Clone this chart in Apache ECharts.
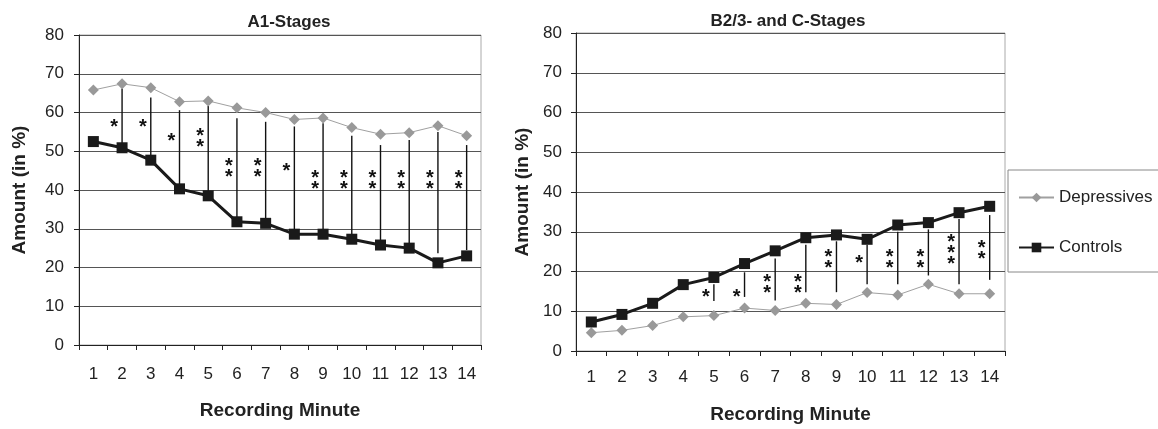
<!DOCTYPE html>
<html>
<head>
<meta charset="utf-8">
<script src="https://cdn.jsdelivr.net/npm/echarts@6/dist/echarts.min.js"></script>
<style>
  html, body { margin: 0; padding: 0; background: #fff; }
  #main { width: 1158px; height: 429px; }
</style>
</head>
<body>
<div id="main"></div>
<script>
// categories (recording minute)
var minutes = ['1', '2', '3', '4', '5', '6', '7', '8', '9', '10', '11', '12', '13', '14'];

// A1-Stages
var depA1 = [65.8, 67.4, 66.4, 62.8, 63.0, 61.2, 60.0, 58.2, 58.6, 56.1, 54.4, 54.8, 56.6, 54.0];
var ctrlA1 = [52.5, 50.9, 47.7, 40.3, 38.5, 31.8, 31.4, 28.6, 28.6, 27.3, 25.8, 25.0, 21.2, 23.0];
// significance bars (minute index, top, bottom, number of stars, star height)
var sigIdxA1 = [1, 2, 3, 4, 5, 6, 7, 8, 9, 10, 11, 12, 13];
var sigTopA1 = [66.2, 63.9, 60.6, 61.7, 58.5, 57.6, 56.4, 57.2, 54.0, 51.6, 52.9, 55.0, 51.6];
var sigBotA1 = [51.0, 47.7, 40.3, 38.5, 31.8, 31.4, 28.6, 28.6, 27.3, 25.8, 25.0, 23.7, 24.5];
var starsA1 = [1, 1, 1, 2, 2, 2, 1, 2, 2, 2, 2, 2, 2];
var starYA1 = [57.3, 57.3, 53.7, 53.7, 46, 46, 46, 42.8, 42.8, 42.8, 42.8, 42.8, 42.8];

// B2/3- and C-Stages
var depBC = [4.6, 5.2, 6.4, 8.6, 8.9, 10.8, 10.2, 12.0, 11.7, 14.7, 14.1, 16.8, 14.4, 14.4];
var ctrlBC = [7.3, 9.2, 12.0, 16.7, 18.5, 22.0, 25.2, 28.5, 29.2, 28.1, 31.7, 32.3, 34.8, 36.4];
var sigIdxBC = [4, 5, 6, 7, 8, 9, 10, 11, 12, 13];
var sigTopBC = [16.8, 19.8, 23.3, 26.7, 27.6, 26.7, 30.0, 30.6, 33.2, 34.2];
var sigBotBC = [12.6, 13.6, 12.7, 14.8, 14.8, 16.8, 16.8, 19.0, 16.8, 17.9];
var starsBC = [1, 1, 2, 2, 2, 1, 2, 2, 3, 2];
var starYBC = [14.6, 14.6, 17.1, 17.1, 23.4, 23.3, 23.5, 23.5, 25.7, 25.6];

var font = "'Liberation Sans', Arial, sans-serif";

function sigData(idx, top, bot, stars, starY) {
  return idx.map(function (v, i) { return [v, top[i], bot[i], stars[i], starY[i]]; });
}

// vertical significance bar with stacked stars to its left
function renderSig(params, api) {
  var x = api.value(0);
  var p1 = api.coord([x, api.value(1)]);
  var p2 = api.coord([x, api.value(2)]);
  var ps = api.coord([x, api.value(4)]);
  var n = api.value(3);
  var txt = [];
  for (var k = 0; k < n; k++) txt.push('*');
  return {
    type: 'group',
    children: [
      {
        type: 'line',
        shape: { x1: p1[0], y1: p1[1], x2: p2[0], y2: p2[1] },
        style: { stroke: '#111', lineWidth: 1.4 }
      },
      {
        type: 'text',
        x: p1[0] - 8,
        y: ps[1] + 5,
        style: {
          text: txt.join('\n'),
          fontFamily: font,
          fontSize: 20,
          fontWeight: 'bold',
          lineHeight: 11,
          fill: '#111',
          align: 'center',
          verticalAlign: 'middle'
        }
      }
    ]
  };
}

function xAxisCfg(gi, margin, nameGap) {
  return {
    type: 'category',
    gridIndex: gi,
    data: minutes,
    boundaryGap: true,
    name: 'Recording Minute',
    nameLocation: 'middle',
    nameGap: nameGap,
    nameTextStyle: { fontFamily: font, fontSize: 19, fontWeight: 'bold', color: '#222' },
    axisLine: { lineStyle: { color: '#222', width: 1 } },
    axisTick: { show: true, length: 5, lineStyle: { color: '#222' } },
    axisLabel: { margin: margin, fontFamily: font, fontSize: 17, color: '#222' },
    splitLine: { show: false }
  };
}

function yAxisCfg(gi, nameGap, margin) {
  return {
    type: 'value',
    gridIndex: gi,
    min: 0,
    max: 80,
    interval: 10,
    name: 'Amount (in %)',
    nameLocation: 'middle',
    nameGap: nameGap,
    nameTextStyle: { fontFamily: font, fontSize: 19, fontWeight: 'bold', color: '#222' },
    axisLine: { show: true, lineStyle: { color: '#222', width: 1 } },
    axisTick: { show: true, length: 5, lineStyle: { color: '#222' } },
    axisLabel: { margin: margin, fontFamily: font, fontSize: 17, color: '#222' },
    splitLine: { show: true, lineStyle: { color: '#555', width: 1 } }
  };
}

function depSeries(ai, data) {
  return {
    name: 'Depressives',
    type: 'line',
    xAxisIndex: ai,
    yAxisIndex: ai,
    data: data,
    symbol: 'diamond',
    symbolSize: 11,
    itemStyle: { color: '#999' },
    lineStyle: { color: '#a0a0a0', width: 1 },
    z: 3
  };
}

function ctrlSeries(ai, data) {
  return {
    name: 'Controls',
    type: 'line',
    xAxisIndex: ai,
    yAxisIndex: ai,
    data: data,
    symbol: 'rect',
    symbolSize: 11,
    itemStyle: { color: '#1a1a1a' },
    lineStyle: { color: '#1a1a1a', width: 3 },
    z: 4
  };
}

var chart = echarts.init(document.getElementById('main'));
window.addEventListener('resize', () => chart.resize(), false);

var option = {
  backgroundColor: '#fff',
  animation: false,
  title: [
    { text: 'A1-Stages', left: 284, top: 9, textAlign: 'center',
      textStyle: { fontFamily: font, fontSize: 17, fontWeight: 'bold', color: '#222' } },
    { text: 'B2/3- and C-Stages', left: 783, top: 8, textAlign: 'center',
      textStyle: { fontFamily: font, fontSize: 17, fontWeight: 'bold', color: '#222' } }
  ],
  legend: {
    data: ['Depressives', 'Controls'],
    orient: 'vertical',
    left: 1008,
    top: 170,
    itemWidth: 35,
    itemHeight: 12,
    itemGap: 33,
    padding: [19, 30, 16, 10],
    borderColor: '#888',
    borderWidth: 1,
    textStyle: { fontFamily: font, fontSize: 17, color: '#222' }
  },
  grid: [
    { left: 79, top: 35, width: 402, height: 310, show: true, borderColor: '#aaa', borderWidth: 1, backgroundColor: 'transparent' },
    { left: 576, top: 33, width: 429, height: 320, show: true, borderColor: '#aaa', borderWidth: 1, backgroundColor: 'transparent' }
  ],
  xAxis: [xAxisCfg(0, 21, 56), xAxisCfg(1, 18, 54)],
  yAxis: [yAxisCfg(0, 50, 15), yAxisCfg(1, 44, 14)],
  series: [
    {
      type: 'custom',
      xAxisIndex: 0,
      yAxisIndex: 0,
      renderItem: renderSig,
      data: sigData(sigIdxA1, sigTopA1, sigBotA1, starsA1, starYA1),
      z: 2
    },
    depSeries(0, depA1),
    ctrlSeries(0, ctrlA1),
    {
      type: 'custom',
      xAxisIndex: 1,
      yAxisIndex: 1,
      renderItem: renderSig,
      data: sigData(sigIdxBC, sigTopBC, sigBotBC, starsBC, starYBC),
      z: 2
    },
    depSeries(1, depBC),
    ctrlSeries(1, ctrlBC)
  ]
};

chart.setOption(option);
</script>
</body>
</html>
